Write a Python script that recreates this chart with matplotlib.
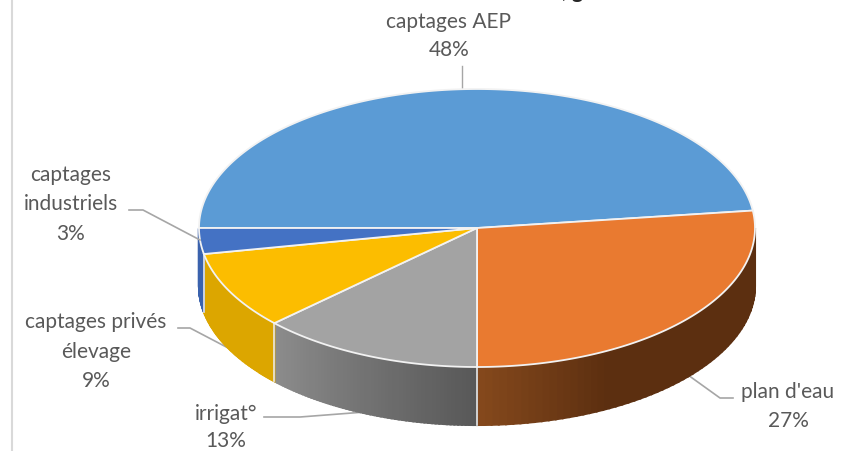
import numpy as np
import matplotlib
matplotlib.use("Agg")
import matplotlib.pyplot as plt
from matplotlib.colors import to_rgb

# parts du camembert, dans le sens horaire a partir de captages AEP
labels = ["captages AEP", "plan d'eau", "irrigat°", "captages privés\nélevage", "captages\nindustriels"]
values = [48, 27, 13, 9, 3]
colors = ["#5b9bd5", "#e97a30", "#a3a3a3", "#fcbd00", "#4472c4"]
wall_dark = ["#41719c", "#5c2f10", "#585858", "#dca600", "#3a62ad"]
wall_light = ["#41719c", "#84481c", "#8c8c8c", "#dca600", "#3a62ad"]

cx, cy = 477, 228
rx, ry = 278, 139
depth = 58
start = 180

plt.rcParams['font.family'] = ['Lato', 'DejaVu Sans']
fig = plt.figure(figsize=(8.42, 4.51), dpi=100)
ax = fig.add_axes([0, 0, 1, 1])
ax.set_xlim(0, 842)
ax.set_ylim(451, 0)
ax.axis("off")


def ell(t):
    t = np.radians(t)
    return cx + rx*np.cos(t), cy - ry*np.sin(t)


ax.plot([12, 12], [0, 451], color="#d9d9d9", lw=1.5)

# bornes des parts
ends = start - np.cumsum(values)*3.6
begins = np.concatenate([[start], ends[:-1]])

# flanc avant (partie basse de l'ellipse seulement)
for b, e, cd, cl in zip(begins, ends, wall_dark, wall_light):
    lo = max(e, -180)
    hi = min(b, 0)
    if hi <= lo:
        continue
    n = 60
    ts = np.linspace(hi, lo, n+1)
    c0, c1 = np.array(to_rgb(cd)), np.array(to_rgb(cl))
    for i in range(n):
        x0, y0 = ell(ts[i])
        x1, y1 = ell(ts[i+1])
        f = i/(n-1)
        # le degrade n'arrive au clair que sur le dernier quart
        f = max(0, (f-0.7)/0.3) if e == ends[1] else f
        ax.fill([x0, x1, x1, x0], [y0, y1, y1+depth, y0+depth],
                color=c0*(1-f)+c1*f, lw=1.5, zorder=2)
    if hi < 0:
        x, y = ell(hi)
        ax.plot([x, x], [y, y+depth], color="#e8e8e8", lw=1.2, zorder=3)

# dessus
for b, e, c in zip(begins, ends, colors):
    ts = np.linspace(b, e, 200)
    xs, ys = ell(ts)
    ax.fill(np.r_[cx, xs], np.r_[cy, ys], facecolor=c, edgecolor="#f2f2f2", lw=1.3, zorder=4)

# etiquettes et traits de rappel
txt = "#595959"
fs = 15
ax.text(449, 22, labels[0], ha="center", va="center", color=txt, fontsize=fs)
ax.text(449, 50, "48%", ha="center", va="center", color=txt, fontsize=fs)
ax.plot([462, 462], [66, 90], color="#a6a6a6", lw=1, zorder=1)

ax.text(788, 392, labels[1], ha="center", va="center", color=txt, fontsize=fs)
ax.text(788, 421, "27%", ha="center", va="center", color=txt, fontsize=fs)
ax.plot([733, 720, 688], [398, 398, 375], color="#a6a6a6", lw=1.2, zorder=1)

ax.text(226, 414, labels[2], ha="center", va="center", color=txt, fontsize=fs)
ax.text(226, 441, "13%", ha="center", va="center", color=txt, fontsize=fs)
ax.plot([264, 300, 365], [417, 417, 412], color="#a6a6a6", lw=1.2, zorder=1)

ax.text(96, 322, "captages privés", ha="center", va="center", color=txt, fontsize=fs)
ax.text(96, 352, "élevage", ha="center", va="center", color=txt, fontsize=fs)
ax.text(96, 381, "9%", ha="center", va="center", color=txt, fontsize=fs)
ax.plot([178, 190, 232], [328, 328, 350], color="#a6a6a6", lw=1.2, zorder=1)

ax.text(71, 175, "captages", ha="center", va="center", color=txt, fontsize=fs)
ax.text(71, 204, "industriels", ha="center", va="center", color=txt, fontsize=fs)
ax.text(71, 234, "3%", ha="center", va="center", color=txt, fontsize=fs)
ax.plot([129, 143, 200], [210, 210, 240], color="#a6a6a6", lw=1.2, zorder=5)

# bas du titre, coupe par le bord de l'image
ax.text(572, -8, ", g", ha="center", va="center", color="#262626", fontsize=15, fontweight="bold")

fig.savefig("out.png", dpi=100)
